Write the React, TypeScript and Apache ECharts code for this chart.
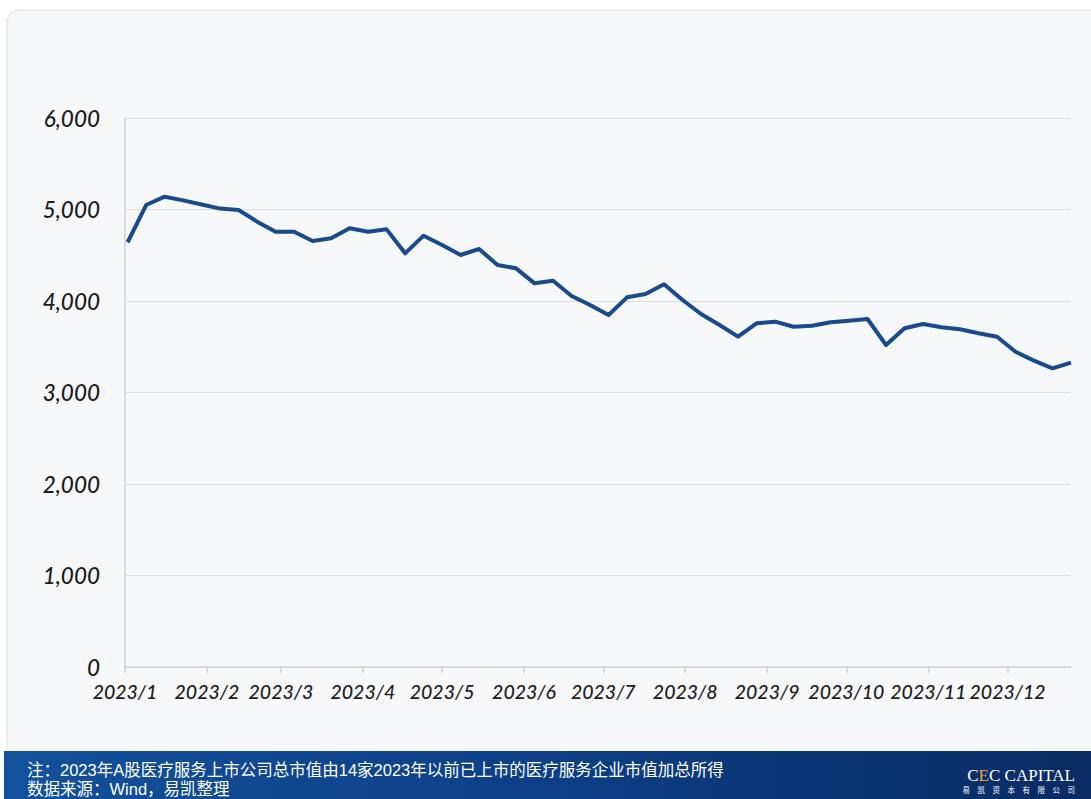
import React, { useEffect, useRef } from "react";
import * as echarts from "echarts";

// Weekly sampling dates (Mondays) for 2023
const weekDates: string[] = [
  "2023-01-02", "2023-01-09", "2023-01-16", "2023-01-23", "2023-01-30",
  "2023-02-06", "2023-02-13", "2023-02-20", "2023-02-27",
  "2023-03-06", "2023-03-13", "2023-03-20", "2023-03-27",
  "2023-04-03", "2023-04-10", "2023-04-17", "2023-04-24",
  "2023-05-01", "2023-05-08", "2023-05-15", "2023-05-22", "2023-05-29",
  "2023-06-05", "2023-06-12", "2023-06-19", "2023-06-26",
  "2023-07-03", "2023-07-10", "2023-07-17", "2023-07-24", "2023-07-31",
  "2023-08-07", "2023-08-14", "2023-08-21", "2023-08-28",
  "2023-09-04", "2023-09-11", "2023-09-18", "2023-09-25",
  "2023-10-02", "2023-10-09", "2023-10-16", "2023-10-23", "2023-10-30",
  "2023-11-06", "2023-11-13", "2023-11-20", "2023-11-27",
  "2023-12-04", "2023-12-11", "2023-12-18", "2023-12-25",
];

// Total market value of A-share healthcare service companies (亿元)
const marketValue: number[] = [
  4642, 5049, 5140, 5100, 5055,
  5010, 4995, 4867, 4757,
  4757, 4656, 4685, 4795,
  4757, 4783, 4521, 4714,
  4612, 4503, 4568, 4393, 4357,
  4193, 4222, 4055, 3956,
  3847, 4040, 4077, 4183, 4011,
  3858, 3738, 3610, 3756,
  3774, 3719, 3730, 3767,
  3785, 3803, 3519, 3702, 3749,
  3713, 3691, 3647, 3610,
  3446, 3348, 3264, 3326,
];

const axisStart = "2023-01-01";
const axisEnd = "2023-12-25";
const yTicks = { min: 0, max: 6000, step: 1000 };

const noteLine = "注：2023年A股医疗服务上市公司总市值由14家2023年以前已上市的医疗服务企业市值加总所得";
const sourceLine = "数据来源：Wind，易凯整理";
const logoSub = "易\u3000凯\u3000资\u3000本\u3000有\u3000限\u3000公\u3000司";

const DAY = 86400000;

export default function App() {
  const ref = useRef<HTMLDivElement>(null);

  useEffect(() => {
    if (!ref.current) return;
    const chart = echarts.init(ref.current, undefined, { renderer: "svg" });
    const axisFont = {
      fontFamily: "Lato",
      fontStyle: "italic" as const,
      fontWeight: 500,
      color: "#1c1c1c",
    };
    chart.setOption({
      animation: false,
      backgroundColor: "#ffffff",
      grid: { left: 125, right: 20, top: 118, bottom: 132, containLabel: false },
      graphic: [
        {
          type: "rect",
          z: -10,
          shape: { x: 7, y: 10, width: 1100, height: 770, r: 12 },
          style: { fill: "#f7f8fa", stroke: "#dddfe3", lineWidth: 1 },
          silent: true,
        },
        {
          type: "rect",
          z: 10,
          shape: { x: 4, y: 751, width: 1090, height: 50 },
          style: {
            fill: new echarts.graphic.LinearGradient(0, 0, 1, 0, [
              { offset: 0, color: "#13519c" },
              { offset: 0.5, color: "#0c3f84" },
              { offset: 1, color: "#0a2b63" },
            ]),
          },
          silent: true,
        },
        {
          // footnote and data source, two lines in one block
          type: "text",
          z: 11,
          x: 27,
          y: 779.5,
          style: {
            text: noteLine + "\n" + sourceLine,
            fill: "#ffffff",
            fontSize: 16.5,
            lineHeight: 19.5,
            fontFamily: "'Liberation Sans', 'Noto Sans CJK SC'",
            verticalAlign: "middle",
          },
        },
        {
          type: "text",
          z: 11,
          x: 1075,
          y: 775,
          style: {
            text: "{w|C}{o|E}{w|C CAPITAL}",
            align: "right",
            verticalAlign: "middle",
            rich: {
              w: { fill: "#ffffff", fontSize: 17, fontFamily: "Liberation Serif" },
              o: { fill: "#f0a53a", fontSize: 17, fontFamily: "Liberation Serif" },
            },
          },
        },
        {
          type: "text",
          z: 11,
          x: 1075,
          y: 789,
          style: {
            text: logoSub,
            fill: "#ffffff",
            fontSize: 7.5,
            fontFamily: "Noto Sans CJK SC",
            align: "right",
            verticalAlign: "middle",
          },
        },
      ],
      xAxis: {
        type: "time",
        min: axisStart,
        max: axisEnd,
        minInterval: 28 * DAY,
        maxInterval: 31 * DAY,
        axisLine: { show: true, lineStyle: { color: "#d0d0d0", width: 1.5 } },
        axisTick: { show: true, length: 6, lineStyle: { color: "#d0d0d0", width: 1.5 } },
        splitLine: { show: false },
        minorTick: { show: false },
        axisLabel: {
          ...axisFont,
          fontSize: 19.5,
          margin: 14,
          showMinLabel: true,
          showMaxLabel: false,
          hideOverlap: false,
          formatter: (v: number) => {
            const d = new Date(v);
            return `${d.getFullYear()}/${d.getMonth() + 1}`;
          },
        },
      },
      yAxis: {
        type: "value",
        min: yTicks.min,
        max: yTicks.max,
        interval: yTicks.step,
        axisLine: { show: true, lineStyle: { color: "#d0d0d0", width: 1.5 } },
        axisTick: { show: false },
        splitLine: { show: true, lineStyle: { color: "#dedede", width: 1.2 } },
        axisLabel: {
          ...axisFont,
          fontSize: 22.5,
          margin: 25,
          formatter: (v: number) => v.toLocaleString("en-US"),
        },
      },
      series: [
        {
          type: "line",
          data: weekDates.map((d, i) => [d, marketValue[i]]),
          showSymbol: false,
          symbol: "none",
          lineStyle: { color: "#1a4a8e", width: 4, join: "round" },
          itemStyle: { color: "#1a4a8e" },
        },
      ],
    });
    return () => chart.dispose();
  }, []);

  return (
    <div style={{ position: "absolute", left: 0, top: 0, width: 1091, height: 799 }}>
      <div ref={ref} style={{ width: 1091, height: 799 }} />
    </div>
  );
}
